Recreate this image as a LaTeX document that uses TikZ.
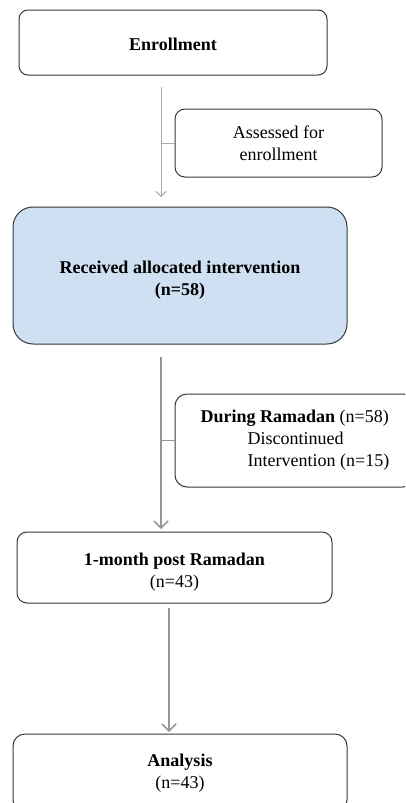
\documentclass[tikz,border=0pt]{standalone}
\usepackage{fontspec}
\setmainfont{Liberation Serif}
\usetikzlibrary{positioning}
\usetikzlibrary{arrows.meta}
\definecolor{boxblue}{RGB}{206,224,241}
\definecolor{linegray}{RGB}{150,150,150}
\definecolor{edgegray}{RGB}{55,55,55}

\begin{document}
\begin{tikzpicture}[x=1pt,y=-1pt,
    stage/.style={draw=edgegray, line width=1pt, align=center, inner sep=0pt, font=\fontsize{18}{22}\selectfont},
    flow/.style={linegray, line width=1.5pt, arrows={-Straight Barb[length=7pt, width=14pt]}}]
    \clip (0,0) rectangle (405,803);
    \useasboundingbox (0,0) rectangle (405,803);

    \node[stage, rounded corners=9pt, minimum width=308pt, minimum height=65pt] (enroll) at (173,42.5) {\rule{0pt}{16pt}\textbf{Enrollment}};
    \node[stage, rounded corners=10pt, minimum width=207pt, minimum height=68pt] (assess) at (278.5,143) {Assessed for\\enrollment};
    \node[stage, fill=boxblue, rounded corners=20pt, minimum width=334pt, minimum height=137pt] (received) at (180,275.5) {\rule{0pt}{21pt}\textbf{Received allocated intervention}\\\textbf{(n=58)}};
    \node[stage, rounded corners=12pt, minimum width=240pt, minimum height=93pt, align=left] (during) at (295,440.5) {\textbf{During Ramadan} (n=58)\\\hspace{47pt}Discontinued\\\hspace{47pt}Intervention (n=15)};
    \node[stage, rounded corners=10pt, minimum width=315pt, minimum height=71pt] (post) at (174.5,567.5) {\rule{0pt}{21pt}\textbf{1-month post Ramadan}\\(n=43)};
    \node[stage, rounded corners=12pt, minimum width=334pt, minimum height=78pt] (analysis) at (180,773) {\textbf{Analysis}\\(n=43)};

    % spine ends
    \coordinate (s1) at (161,87);
    \coordinate (e1) at (161,197);
    \coordinate (s2) at (161,357);
    \coordinate (e2) at (161,529);
    \coordinate (s3) at (169,608);
    \coordinate (e3) at (169,732);

    \draw[flow, line width=0.9pt, linegray!80, arrows={-Straight Barb[length=5pt, width=10pt]}] (s1) -- (e1);
    \draw[linegray!80, line width=0.9pt] (assess.west -| s1) -- (assess.west);
    \draw[flow] (s2) -- (e2);
    \draw[linegray, line width=1.5pt] (during.west -| s2) -- (during.west);
    \draw[flow] (s3) -- (e3);
\end{tikzpicture}
\end{document}
